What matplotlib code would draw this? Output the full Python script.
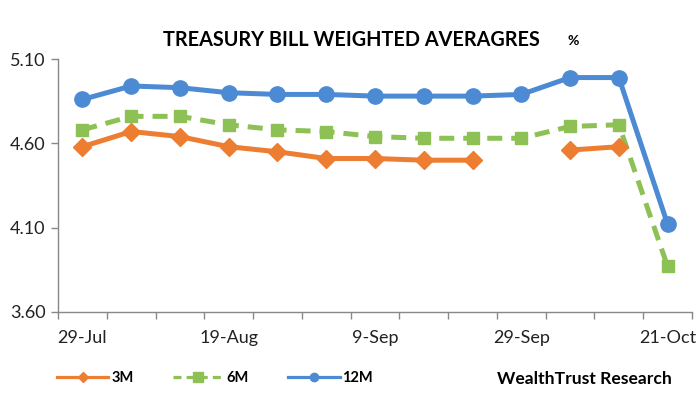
import matplotlib.pyplot as plt
import numpy as np
from matplotlib.lines import Line2D

plt.rcParams['font.family'] = ['Lato', 'DejaVu Sans']

# weekly auction dates
dates = ["29-Jul", "5-Aug", "12-Aug", "19-Aug", "26-Aug", "2-Sep", "9-Sep",
         "16-Sep", "23-Sep", "29-Sep", "7-Oct", "14-Oct", "21-Oct"]
# weighted averages in %, nan = no accepted bids
bill_3m = [4.58, 4.67, 4.64, 4.58, 4.55, 4.51, 4.51, 4.50, 4.50, np.nan, 4.56, 4.58, np.nan]
bill_6m = [4.68, 4.76, 4.76, 4.71, 4.68, 4.67, 4.64, 4.63, 4.63, 4.63, 4.70, 4.71, 3.87]
bill_12m = [4.86, 4.94, 4.93, 4.90, 4.89, 4.89, 4.88, 4.88, 4.88, 4.89, 4.99, 4.99, 4.12]
yticks = [3.60, 4.10, 4.60, 5.10]
label_every = 3

orange = "#ED7D31"
green = "#8DC055"
blue = "#4C8BD3"

x = np.arange(len(dates))

fig = plt.figure(figsize=(7, 4), dpi=100)
ax = fig.add_axes([58 / 700, 1 - 312 / 400, (692 - 58) / 700, (312 - 59) / 400])

ax.plot(x, bill_3m, color=orange, lw=3.6, marker="D", ms=9.5, zorder=3)
ax.plot(x, bill_6m, color=green, lw=3.6, marker="s", ms=8.5, dashes=(3, 1.8), zorder=2)
ax.plot(x, bill_12m, color=blue, lw=3.6, marker="o", ms=11, zorder=4)

ax.set_xlim(-0.5, len(dates) - 0.5)
ax.set_ylim(3.60, 5.10)
ax.set_yticks(yticks)
ax.set_yticklabels(["%.2f" % v for v in yticks])

ax.set_xticks(x[::label_every])
ax.set_xticklabels(dates[::label_every])
ax.set_xticks(np.arange(-0.5, len(dates), 1), minor=True)
ax.tick_params(axis="x", which="major", length=0, pad=13, labelsize=13, labelcolor="#222222")
ax.tick_params(axis="x", which="minor", length=5, color="#888888", width=1)
ax.tick_params(axis="y", length=5, color="#888888", width=1, labelsize=13, pad=4,
               labelcolor="#222222")

for s in ["top", "right"]:
    ax.spines[s].set_visible(False)
for s in ["left", "bottom"]:
    ax.spines[s].set_color("#888888")
    ax.spines[s].set_linewidth(1)

fig.text(351 / 700, 1 - 40 / 400, "TREASURY BILL WEIGHTED AVERAGRES", ha="center", va="center",
         fontsize=14.3, fontweight="bold")
fig.text(573 / 700, 1 - 41 / 400, "%", ha="center", va="center", fontsize=10, fontweight="bold")

handles = [
    Line2D([], [], color=orange, lw=2.3, marker="D", ms=5),
    Line2D([], [], color=green, lw=2.3, marker="s", ms=7, dashes=(2.5, 1.6)),
    Line2D([], [], color=blue, lw=2.3, marker="o", ms=6),
]
fig.legend(handles, ["3M", "6M", "12M"], loc="center left", bbox_to_anchor=(50 / 700, 1 - 378 / 400),
           ncol=3, frameon=False, handlelength=3.5, columnspacing=2.7, handletextpad=0.2,
           borderpad=0, prop={"size": 10.5, "weight": "bold"})
fig.text(497 / 700, 1 - 379 / 400, "WealthTrust Research", ha="left", va="center",
         fontsize=12.6, fontweight="bold")

fig.savefig("out.png", dpi=100)
